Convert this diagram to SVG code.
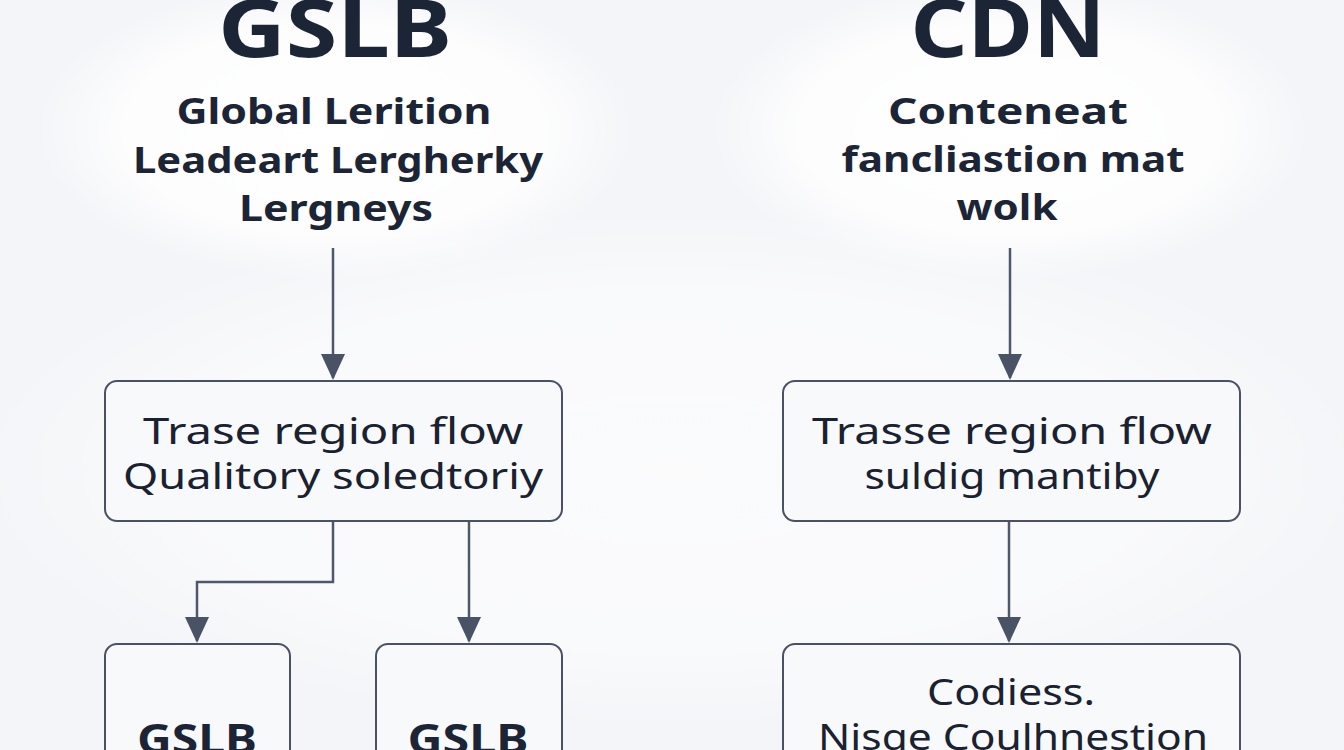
<svg xmlns="http://www.w3.org/2000/svg" width="1344" height="750" viewBox="0 0 1344 750">
<defs>
<style>
.hd{font-family:"Noto Sans","Open Sans","Liberation Sans",sans-serif;font-weight:700;fill:#1c2536;text-anchor:middle}
.bx{font-family:"Noto Sans","Open Sans","Liberation Sans",sans-serif;font-weight:400;fill:#1a2130;text-anchor:middle;font-size:37px}
.node rect{fill:#f8f9fb;stroke:#4a5163;stroke-width:2}
.con{fill:none;stroke:#4f586b;stroke-width:2.5}
</style>
<radialGradient id="glow" cx="0.5" cy="0.5" r="0.5">
<stop offset="0" stop-color="#ffffff"/>
<stop offset="0.7" stop-color="#ffffff" stop-opacity="0.8"/>
<stop offset="1" stop-color="#ffffff" stop-opacity="0"/>
</radialGradient>
<marker id="ah" markerUnits="userSpaceOnUse" markerWidth="26" markerHeight="24" refX="24" refY="12" orient="auto" viewBox="0 0 26 24">
<path d="M0,0 L26,12 L0,24 Z" fill="#4a5366"/>
</marker>
</defs>
<rect width="1344" height="750" fill="#f4f5f8"/>
<ellipse cx="335" cy="130" rx="300" ry="150" fill="url(#glow)"/>
<ellipse cx="1010" cy="130" rx="300" ry="150" fill="url(#glow)"/>
<ellipse cx="672" cy="470" rx="700" ry="260" fill="url(#glow)" opacity="0.6"/>

<g id="gslb-header">
<text class="hd" x="335" y="57" font-size="80" textLength="234" lengthAdjust="spacingAndGlyphs">GSLB</text>
<text class="hd" x="334" y="124" font-size="36" textLength="315" lengthAdjust="spacingAndGlyphs">Global Lerition</text>
<text class="hd" x="338" y="173" font-size="36" textLength="410" lengthAdjust="spacingAndGlyphs">Leadeart Lergherky</text>
<text class="hd" x="336" y="221" font-size="36" textLength="194" lengthAdjust="spacingAndGlyphs">Lergneys</text>
</g>

<g id="cdn-header">
<text class="hd" x="1008" y="57" font-size="80" textLength="195" lengthAdjust="spacingAndGlyphs">CDN</text>
<text class="hd" x="1008" y="124" font-size="36" textLength="240" lengthAdjust="spacingAndGlyphs">Conteneat</text>
<text class="hd" x="1013" y="172" font-size="36" textLength="343" lengthAdjust="spacingAndGlyphs">fancliastion mat</text>
<text class="hd" x="1007" y="220" font-size="36" textLength="101" lengthAdjust="spacingAndGlyphs">wolk</text>
</g>

<g id="connectors">
<path class="con" d="M333,248 L333,378" marker-end="url(#ah)"/>
<path class="con" d="M1010,248 L1010,378" marker-end="url(#ah)"/>
<path class="con" d="M333,521 L333,582 L197,582 L197,641" marker-end="url(#ah)"/>
<path class="con" d="M469,521 L469,641" marker-end="url(#ah)"/>
<path class="con" d="M1009,521 L1009,641" marker-end="url(#ah)"/>
</g>

<g id="gslb-region" class="node">
<rect x="105" y="381" width="457" height="140" rx="12"/>
<text class="bx" x="333" y="444" textLength="380" lengthAdjust="spacingAndGlyphs">Trase region flow</text>
<text class="bx" x="333" y="489" textLength="420" lengthAdjust="spacingAndGlyphs">Qualitory soledtoriy</text>
</g>

<g id="cdn-region" class="node">
<rect x="783" y="381" width="457" height="140" rx="12"/>
<text class="bx" x="1012" y="444" textLength="400" lengthAdjust="spacingAndGlyphs">Trasse region flow</text>
<text class="bx" x="1012" y="489" textLength="295" lengthAdjust="spacingAndGlyphs">suldig mantiby</text>
</g>

<g id="gslb-a" class="node">
<rect x="105" y="644" width="185" height="130" rx="12"/>
<text class="hd" x="197" y="754" font-size="42" textLength="120" lengthAdjust="spacingAndGlyphs">GSLB</text>
</g>

<g id="gslb-b" class="node">
<rect x="376" y="644" width="186" height="130" rx="12"/>
<text class="hd" x="468" y="754" font-size="42" textLength="121" lengthAdjust="spacingAndGlyphs">GSLB</text>
</g>

<g id="cdn-node" class="node">
<rect x="783" y="644" width="457" height="130" rx="12"/>
<text class="bx" x="1011" y="705" textLength="168" lengthAdjust="spacingAndGlyphs">Codiess.</text>
<text class="bx" x="1013" y="750" textLength="390" lengthAdjust="spacingAndGlyphs">Nisge Coulhnestion</text>
</g>
</svg>
